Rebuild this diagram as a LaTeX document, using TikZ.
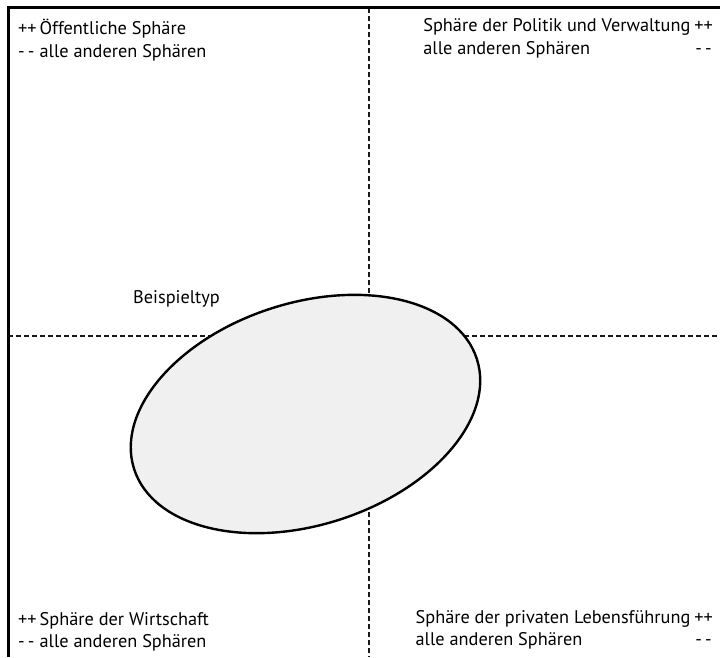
\documentclass[tikz,border=0pt]{standalone}
\usepackage{fontspec}
\setmainfont{PT Sans}
\usetikzlibrary{positioning}
\tikzset{
  frame/.style={line width=3pt},
  axis/.style={line width=1.5pt, dash pattern=on 5pt off 3pt, black!90},
  typ/.style={line width=2.4pt, fill=black!6},
  quadtext/.style={inner sep=0pt, font=\fontsize{18.3}{22.5}\selectfont}
}

\begin{document}
\begin{tikzpicture}[x=1pt,y=1pt]
    \useasboundingbox (0,0) rectangle (720,657);

    \coordinate (top) at (369,649);
    \coordinate (bottom) at (369,0);
    \coordinate (left) at (8,321);
    \coordinate (right) at (720,321);
    \draw[axis] (top) -- (bottom);
    \draw[axis] (left) -- (right);

    \coordinate (mid) at (305.5,243);
    \draw[typ, rotate around={17.8:(mid)}] (mid) ellipse [x radius=180, y radius=111];
    \node[quadtext, anchor=base west] (typname) at (133,354) {Beispieltyp};

    \node[quadtext, anchor=base west] (nw) at (18,622) {\begin{tabular}[t]{@{}l@{\hspace{3pt}}l@{}}
      ++ & Öffentliche Sphäre\\
      -\,- & alle anderen Sphären
    \end{tabular}};
    \node[quadtext, anchor=base east] (ne) at (713,625) {\begin{tabular}[t]{@{}l@{\hspace{4pt}}c@{}}
      Sphäre der Politik und Verwaltung & ++\\
      alle anderen Sphären & -\,-
    \end{tabular}};
    \node[quadtext, anchor=base west] (sw) at (18,32) {\begin{tabular}[t]{@{}l@{\hspace{3pt}}l@{}}
      ++ & Sphäre der Wirtschaft\\
      -\,- & alle anderen Sphären
    \end{tabular}};
    \node[quadtext, anchor=base east] (se) at (713,34) {\begin{tabular}[t]{@{}l@{\hspace{4pt}}c@{}}
      Sphäre der privaten Lebensführung & ++\\
      alle anderen Sphären & -\,-
    \end{tabular}};

    \draw[frame] (720,649) -- (8,649) -- (8,0);
  \end{tikzpicture}
\end{document}
